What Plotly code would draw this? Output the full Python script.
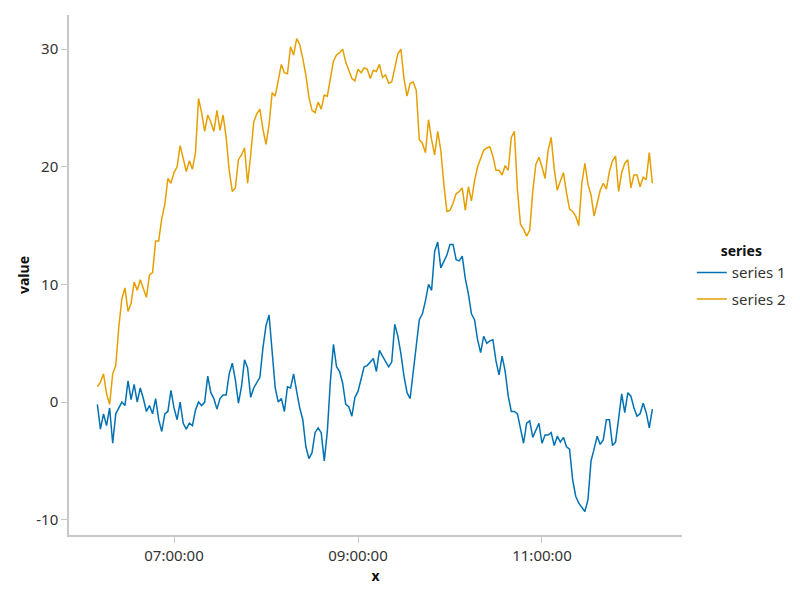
import plotly.graph_objects as go
import pandas as pd

start_time = "2020-01-01 06:10:00"
step_minutes = 2

series1_values = [
    -0.2, -2.3, -1.0, -2.0, -0.5, -3.5, -1.0, -0.5, 0.0, -0.3,
    1.8, 0.2, 1.5, 0.0, 1.2, 0.3, -0.8, -0.3, -1.0, 0.3,
    -1.5, -2.5, -1.0, -0.8, 1.0, -0.5, -1.5, 0.0, -1.8, -2.3,
    -1.8, -2.0, -0.7, 0.0, -0.3, 0.0, 2.2, 0.8, 0.3, -0.6,
    0.3, 0.6, 0.6, 2.4, 3.3, 1.9, -0.1, 1.3, 3.6, 2.9,
    0.4, 1.2, 1.6, 2.1, 4.6, 6.5, 7.4, 4.6, 1.2, 0.0,
    0.3, -0.8, 1.3, 1.2, 2.4, 0.9, -0.5, -1.5, -3.8, -4.8,
    -4.3, -2.6, -2.2, -2.6, -5.0, -2.5, 1.8, 4.9, 3.0, 2.6,
    1.6, -0.2, -0.4, -1.2, 0.4, 0.9, 1.9, 3.0, 3.1, 3.4,
    3.7, 2.6, 4.4, 3.9, 3.5, 3.0, 3.4, 6.6, 5.6, 4.1,
    2.2, 0.8, 0.3, 2.6, 5.0, 7.0, 7.5, 8.6, 10.0, 9.5,
    12.8, 13.6, 11.4, 11.9, 12.5, 13.4, 13.4, 12.1, 12.0, 12.4,
    10.5, 9.2, 7.5, 7.0, 5.3, 4.2, 5.6, 5.0, 5.2, 5.3,
    3.5, 2.3, 3.9, 2.6, 0.5, -0.8, -0.8, -1.0, -2.2, -3.5,
    -1.8, -1.6, -3.0, -2.4, -1.8, -3.5, -2.8, -2.8, -2.6, -3.7,
    -2.9, -3.4, -3.0, -3.8, -4.0, -6.6, -8.0, -8.6, -9.0, -9.3,
    -8.3, -5.0, -4.0, -2.9, -3.6, -3.2, -1.5, -1.5, -3.7, -3.4,
    -1.4, 0.7, -0.9, 0.8, 0.5, -0.5, -1.2, -1.0, -0.1, -0.9,
    -2.2, -0.6,
]

series2_values = [
    1.3, 1.7, 2.4, 0.7, -0.2, 2.4, 3.1, 6.4, 8.8, 9.7,
    7.7, 8.4, 10.2, 9.5, 10.4, 9.6, 8.9, 10.8, 11.0, 13.7,
    13.7, 15.6, 16.8, 19.0, 18.6, 19.5, 20.0, 21.8, 20.8, 19.6,
    20.5, 19.8, 21.2, 25.8, 24.6, 23.0, 24.4, 23.8, 23.0, 24.8,
    23.1, 24.4, 22.5, 19.7, 17.9, 18.2, 20.6, 21.0, 21.6, 18.6,
    21.0, 23.8, 24.5, 24.9, 23.2, 21.9, 23.6, 26.3, 26.0, 27.4,
    28.7, 28.0, 27.9, 30.2, 29.5, 30.9, 30.4, 29.2, 27.8, 25.9,
    24.8, 24.6, 25.5, 24.9, 26.1, 26.0, 27.5, 29.0, 29.5, 29.7,
    30.0, 28.9, 28.2, 27.5, 27.3, 28.3, 28.0, 28.4, 28.3, 27.5,
    28.2, 28.1, 28.7, 27.6, 27.8, 27.1, 27.2, 28.4, 29.6, 30.0,
    27.5, 26.0, 27.1, 27.2, 26.5, 22.3, 22.0, 21.2, 24.0, 22.3,
    21.0, 23.0, 21.4, 18.5, 16.2, 16.3, 16.9, 17.7, 17.9, 18.2,
    16.3, 18.3, 17.1, 18.8, 20.0, 20.7, 21.4, 21.6, 21.7, 20.9,
    19.7, 19.7, 19.3, 20.1, 19.7, 22.5, 23.0, 18.0, 15.1, 14.7,
    14.1, 14.6, 17.9, 20.2, 20.8, 20.0, 19.0, 21.4, 22.5, 19.8,
    18.0, 18.8, 19.5, 17.8, 16.4, 16.2, 15.8, 15.0, 18.6, 20.3,
    18.5, 17.6, 15.8, 16.9, 18.0, 18.6, 18.1, 19.6, 20.5, 20.9,
    17.9, 19.5, 20.3, 20.6, 18.2, 19.3, 19.3, 18.3, 19.1, 18.9,
    21.2, 18.6,
]

series_names = ["series 1", "series 2"]
series_colors = ["#0072B2", "#E69F00"]

x_tick_times = ["2020-01-01 07:00:00", "2020-01-01 09:00:00", "2020-01-01 11:00:00"]
x_tick_labels = ["07:00:00", "09:00:00", "11:00:00"]
y_tick_vals = [-10, 0, 10, 20, 30]
y_tick_labels = ["-10", "0", "10", "20", "30"]

times = pd.date_range(start_time, periods=len(series1_values), freq=f"{step_minutes}min")

FONT = "Noto Sans, sans-serif"

fig = go.Figure()
for name, vals, col in zip(series_names, [series1_values, series2_values], series_colors):
    fig.add_trace(go.Scatter(x=times, y=vals, mode="lines", name=name, legendgroup=name,
                             line=dict(color=col, width=1.5)))

axis_common = dict(showgrid=False, zeroline=False, showline=True, linecolor="#c8c8c8",
                   linewidth=1.5, ticks="outside", tickcolor="#c8c8c8", ticklen=6,
                   automargin=False,
                   tickfont=dict(size=15, color="#333333", family=FONT))

fig.update_xaxes(**axis_common, tickvals=x_tick_times, ticktext=x_tick_labels,
                 range=["2020-01-01 05:51:30", "2020-01-01 12:31:20"],
                 title=dict(text="<b>x</b>", font=dict(size=14, color="#111111", family=FONT), standoff=7))
fig.update_yaxes(**axis_common, tickvals=y_tick_vals, ticktext=y_tick_labels,
                 range=[-11.3, 32.9],
                 title=dict(text="<b>value</b>", font=dict(size=14, color="#111111", family=FONT), standoff=3))

fig.update_layout(
    width=792, height=592,
    plot_bgcolor="white", paper_bgcolor="white",
    margin=dict(l=61, r=118, t=7, b=65),
    font=dict(family=FONT, size=15, color="#333333"),
    legend=dict(title=dict(text="<b>series</b>", font=dict(size=14, color="#111111"), side="top center"),
                x=1.016, y=0.496, yanchor="middle", xanchor="left", itemwidth=30,
                font=dict(size=15, color="#333333"), tracegroupgap=4),
)

fig.write_html("out.html")
